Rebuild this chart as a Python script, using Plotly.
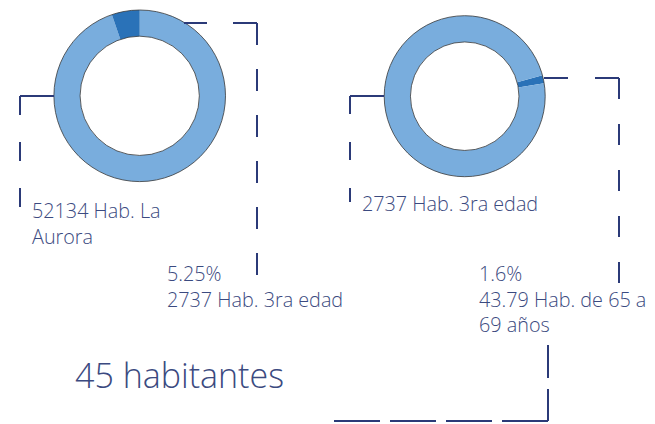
import plotly.graph_objects as go

W, H = 655, 424

# ---- data ----
aurora_total = 52134
tercera_edad = 2737
hab_65_69 = 43.79

donut1_labels = ["Resto La Aurora", "Hab. 3ra edad"]
donut1_values = [aurora_total - tercera_edad, tercera_edad]
donut2_labels = ["Hab. de 65 a 69 años", "Resto 3ra edad"]
donut2_values = [hab_65_69, tercera_edad - hab_65_69]

pct1 = "5.25%"
pct2 = "1.6%"
big_label = "45 habitantes"

LIGHT = "#79addd"
DARK = "#2a72b8"
NAVY = "#2b3a78"
TXT = "#3b4a80"
FONT = "Open Sans, Noto Sans, sans-serif"


def px(x):
    return x / W


def py(y):
    return 1 - y / H


def dom(cx, cy, r):
    return dict(x=[px(cx - r), px(cx + r)], y=[py(cy + r), py(cy - r)])


fig = go.Figure()

# donut 1
d1 = dom(139.7, 95.8, 85.8)
fig.add_trace(go.Pie(labels=donut1_labels, values=donut1_values, hole=0.695,
                     sort=False, direction="clockwise", rotation=0,
                     marker=dict(colors=[LIGHT, DARK], line=dict(width=0)),
                     textinfo="none", hoverinfo="label+value+percent",
                     domain=d1, showlegend=False))
fig.add_trace(go.Pie(values=[1], hole=0.695, sort=False,
                     marker=dict(colors=["rgba(0,0,0,0)"], line=dict(width=0.8, color="#3a3a3a")),
                     textinfo="none", hoverinfo="skip", domain=d1, showlegend=False))

# donut 2
d2 = dom(464.7, 96.2, 80.5)
fig.add_trace(go.Pie(labels=donut2_labels, values=donut2_values, hole=0.674,
                     sort=False, direction="clockwise", rotation=75,
                     marker=dict(colors=[DARK, LIGHT], line=dict(width=0)),
                     textinfo="none", hoverinfo="label+value+percent",
                     domain=d2, showlegend=False))
fig.add_trace(go.Pie(values=[1], hole=0.674, sort=False,
                     marker=dict(colors=["rgba(0,0,0,0)"], line=dict(width=0.8, color="#3a3a3a")),
                     textinfo="none", hoverinfo="skip", domain=d2, showlegend=False))

shapes = []


def seg(x0, y0, x1, y1, dash="solid"):
    shapes.append(dict(type="line", xref="paper", yref="paper",
                       x0=px(x0), y0=py(y0), x1=px(x1), y1=py(y1),
                       line=dict(color=NAVY, width=2, dash=dash), layer="above"))


# donut 1 leaders
seg(20, 96, 54, 96)
seg(20, 96, 20, 207, "19px,27px")
seg(257, 23, 184, 23, "24px,26px")
seg(257, 23, 257, 277, "22px,24px")
# donut 2 leaders
seg(350, 96, 384, 96)
seg(350, 96, 350, 202, "18px,28px")
seg(619, 78, 542, 78, "24px,27px")
seg(619, 78, 619, 285, "21px,25px")
# bracket
seg(548, 345, 548, 421, "33px,11px")
seg(548, 421, 333, 421, "46px,10px")

annotations = []


def label(x, y, text, size=19.8):
    annotations.append(dict(xref="paper", yref="paper", x=px(x), y=py(y),
                            xanchor="left", yanchor="top", align="left",
                            text=text, showarrow=False,
                            font=dict(family=FONT, size=size, color=TXT, weight=300)))


label(30, 195, f"{aurora_total} Hab. La<br>Aurora")
label(165, 258, f"{pct1}<br>{tercera_edad} Hab. 3ra edad")
label(360, 188, f"{tercera_edad} Hab. 3ra edad")
label(477, 258, f"{pct2}<br>{hab_65_69} Hab. de 65 a<br>69 años")
label(73, 350, big_label, size=34)

fig.update_layout(width=W, height=H, margin=dict(l=0, r=0, t=0, b=0),
                  paper_bgcolor="white", plot_bgcolor="white",
                  shapes=shapes, annotations=annotations,
                  font=dict(family=FONT, color=TXT))

fig.write_html("out.html", config={"displayModeBar": False},
               post_script="document.body.style.margin='0';")
